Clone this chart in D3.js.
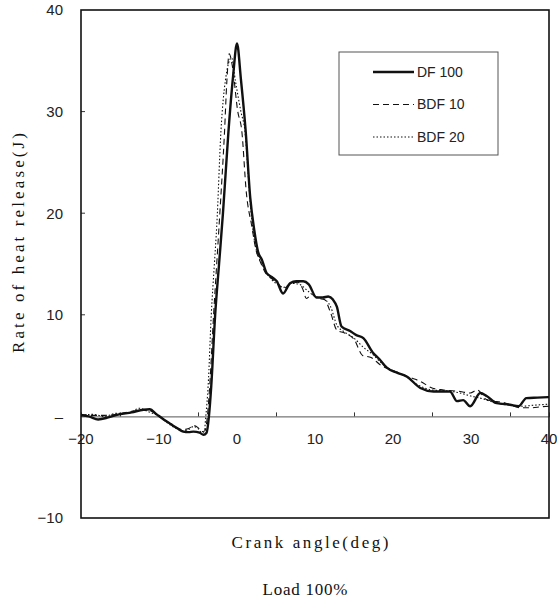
<!DOCTYPE html>
<html>
<head>
<meta charset="utf-8">
<script src="https://cdn.jsdelivr.net/npm/d3@7"></script>
<style>
  body { margin: 0; background: #fff; }
</style>
</head>
<body>
<div id="d3-container"></div>
<script>
/* CONSTANTS AND GLOBALS */
const width = 557,
  height = 602,
  margin = { top: 10, bottom: 84, left: 81, right: 8 };

/* DATA */
// [crank angle (deg), rate of heat release (J)]
const df100 = [
  [-20, 0.1], [-19, 0.0], [-17.8, -0.3], [-16.5, -0.1], [-15.4, 0.15], [-13.5, 0.4],
  [-12, 0.65], [-11.2, 0.7], [-10.3, 0.2], [-9.4, -0.3], [-8.5, -0.75], [-7.7, -1.15],
  [-6.9, -1.5], [-6.2, -1.55], [-5.6, -1.5], [-4.8, -1.6], [-4.3, -1.8], [-3.9, -1.6],
  [-3.6, 0], [-3.3, 3], [-2.8, 10], [-2.3, 15], [-1.8, 20], [-1.1, 28], [-0.5, 33.5],
  [0, 36.7], [0.5, 33.2], [1.1, 28.2], [1.7, 21.5], [2.2, 18.4], [2.7, 16.2], [3.2, 15.4],
  [3.8, 14.1], [4.5, 13.7], [5.1, 13.3], [5.9, 12.1], [6.8, 13.1], [7.6, 13.3], [8.5, 13.3],
  [9.2, 13.0], [10.2, 11.7], [11, 11.7], [11.7, 11.8], [12.3, 11.5], [12.8, 10.8],
  [13.4, 8.85], [14.5, 8.4], [15.3, 8.0], [16.2, 7.7], [17.4, 6.3], [18.3, 5.6], [19.2, 4.8],
  [20.5, 4.3], [21.8, 3.9], [23.5, 2.8], [25.2, 2.45], [27.3, 2.45], [28.2, 1.5], [29, 1.6],
  [29.9, 1.0], [31.2, 2.3], [32, 2.0], [33.3, 1.3], [35, 1.15], [36.1, 1.0], [37.1, 1.8],
  [38.5, 1.85], [40, 1.9]
];

const bdf10 = [
  [-20, 0.2], [-18.5, 0.1], [-17, 0.1], [-15.5, 0.2], [-13.5, 0.5], [-12, 0.6], [-11, 0.5],
  [-10, 0.0], [-9, -0.5], [-8, -1.0], [-7, -1.3], [-6.2, -1.2], [-5.6, -0.9], [-5, -1.1],
  [-4.5, -1.5], [-4.1, -1.4], [-3.8, 0], [-3.5, 3], [-3.0, 10], [-2.6, 15], [-2.2, 20],
  [-1.6, 28], [-1.3, 33], [-1.0, 35.7], [-0.6, 34.5], [0.1, 30], [0.6, 28.2], [1.2, 22],
  [1.9, 18.7], [2.4, 16.5], [3, 15.2], [3.6, 14.2], [4.4, 13.6], [5.2, 13.1], [6, 12.6],
  [6.8, 13.0], [7.8, 13.2], [8.4, 12.6], [8.9, 11.6], [9.6, 12.0], [10.4, 11.6], [11.2, 11.5],
  [12, 10.2], [12.8, 8.5], [13.8, 8.2], [15, 7.6], [16.1, 6.0], [17.2, 5.8], [18.5, 5.0],
  [19.8, 4.6], [21, 4.2], [22.3, 3.8], [23.5, 3.45], [25, 2.8], [26.5, 2.6], [28.6, 2.45],
  [29.9, 2.3], [30.8, 2.6], [32, 1.65], [34.3, 1.35], [36.4, 0.85], [37.7, 0.85], [39, 0.95],
  [40, 1.0]
];

const bdf20 = [
  [-20, 0.1], [-18.5, 0.2], [-17, 0.0], [-15.5, 0.3], [-14, 0.3], [-12.5, 0.8], [-11.5, 0.5],
  [-10, 0.0], [-9, -0.6], [-8, -1.1], [-7, -1.4], [-6.2, -1.3], [-5.6, -1.0], [-5, -1.2],
  [-4.5, -1.6], [-4.2, -1.5], [-4.0, 0], [-3.7, 3], [-3.3, 10], [-2.9, 15], [-2.6, 18.7],
  [-2.05, 28.2], [-1.5, 33], [-0.7, 35.3], [-0.2, 33], [0.5, 30], [1.0, 28.2], [1.7, 21],
  [2.1, 18], [2.5, 16.3], [3.0, 15.3], [3.6, 14.4], [4.4, 13.5], [5.2, 13.0], [6, 12.7],
  [7, 13.1], [8, 13.0], [9, 12.4], [10, 11.8], [11, 11.6], [12, 10.8], [12.8, 9.0],
  [13.8, 8.3], [15, 7.7], [16.2, 6.8], [17.4, 6.1], [18.6, 5.2], [20, 4.5], [21.5, 4.0],
  [23.2, 3.1], [25, 2.6], [27, 2.5], [28.6, 2.3], [30, 2.0], [31.2, 1.8], [33.3, 1.3],
  [35, 1.1], [36.5, 1.0], [38, 1.1], [40, 1.2]
];

const seriesNames = ["DF 100", "BDF 10", "BDF 20"];
const xTicks = [-20, -10, 0, 10, 20, 30, 40];
const xMinorTicks = [-15, -5, 5, 15, 25, 35];
const yTicks = [40, 30, 20, 10, 0, -10];

const styles = [
  { width: 2.4, dash: null },
  { width: 1.1, dash: "6,4" },
  { width: 1.1, dash: "1.5,2" }
];

const titleFont = "Liberation Serif, DejaVu Serif, serif";
const tickFont = "Liberation Sans, Arial, sans-serif";

let svg, xScale, yScale;

init();

function init() {
  xScale = d3.scaleLinear()
    .domain([-20, 40])
    .range([margin.left, width - margin.right]);

  yScale = d3.scaleLinear()
    .domain([-10, 40])
    .range([height - margin.bottom, margin.top]);

  svg = d3.select("#d3-container")
    .append("svg")
    .attr("width", width)
    .attr("height", height);

  // zero line with small ticks
  const xAxis = d3.axisTop(xScale)
    .tickValues(xMinorTicks)
    .tickSize(4)
    .tickFormat("");

  svg.append("g")
    .attr("transform", `translate(0, ${yScale(0)})`)
    .call(xAxis)
    .call(g => g.select(".domain").attr("stroke", "#555").attr("stroke-width", 1))
    .call(g => g.selectAll(".tick line").attr("stroke", "#333"));

  svg.append("g")
    .selectAll("text")
    .data(xTicks)
    .join("text")
    .attr("x", d => xScale(d))
    .attr("y", yScale(0) + 28)
    .attr("text-anchor", "middle")
    .attr("font-family", tickFont)
    .attr("font-size", 15)
    .attr("fill", "#222")
    .text(d => d3.format("d")(d).replace("-", "\u2212"));

  // y axis labels
  const yAxis = d3.axisLeft(yScale)
    .tickValues(yTicks)
    .tickSize(0)
    .tickPadding(18)
    .tickFormat(d => d === 0 ? "\u2013" : d3.format("d")(d).replace("-", "\u2212"));

  svg.append("g")
    .attr("transform", `translate(${margin.left}, 0)`)
    .call(yAxis)
    .call(g => g.select(".domain").remove())
    .call(g => g.selectAll("text")
      .attr("font-family", tickFont)
      .attr("font-size", 15)
      .attr("fill", "#222"));

  // inner y ticks
  svg.append("g")
    .selectAll("line")
    .data([30, 20, 10])
    .join("line")
    .attr("x1", margin.left)
    .attr("x2", margin.left + 4)
    .attr("y1", d => yScale(d))
    .attr("y2", d => yScale(d))
    .attr("stroke", "#333");

  // plot frame
  svg.append("rect")
    .attr("x", margin.left)
    .attr("y", margin.top)
    .attr("width", width - margin.left - margin.right)
    .attr("height", height - margin.top - margin.bottom)
    .attr("fill", "none")
    .attr("stroke", "#111")
    .attr("stroke-width", 1.6);

  // axis titles (monospaced look via textLength)
  svg.append("text")
    .attr("x", 310)
    .attr("y", 548)
    .attr("text-anchor", "middle")
    .attr("font-family", titleFont)
    .attr("font-size", 17)
    .attr("fill", "#111")
    .attr("textLength", 157)
    .attr("lengthAdjust", "spacing")
    .text("Crank angle(deg)");

  svg.append("text")
    .attr("x", 305)
    .attr("y", 595)
    .attr("text-anchor", "middle")
    .attr("font-family", titleFont)
    .attr("font-size", 17)
    .attr("fill", "#111")
    .attr("textLength", 85)
    .attr("lengthAdjust", "spacing")
    .text("Load 100%");

  svg.append("text")
    .attr("transform", `translate(24, 243) rotate(-90)`)
    .attr("text-anchor", "middle")
    .attr("font-family", titleFont)
    .attr("font-size", 17)
    .attr("fill", "#111")
    .attr("textLength", 220)
    .attr("lengthAdjust", "spacing")
    .text("Rate of heat release(J)");

  draw();
}

function draw() {
  const line = d3.line()
    .x(d => xScale(d[0]))
    .y(d => yScale(d[1]))
    .curve(d3.curveMonotoneX);

  const allSeries = [df100, bdf10, bdf20];

  svg.append("g")
    .selectAll("path")
    .data(allSeries)
    .join("path")
    .attr("d", line)
    .attr("fill", "none")
    .attr("stroke", "#111")
    .attr("stroke-width", (d, i) => styles[i].width)
    .attr("stroke-dasharray", (d, i) => styles[i].dash)
    .attr("stroke-linejoin", "round");

  // legend
  const legend = svg.append("g");

  legend.append("rect")
    .attr("x", 339)
    .attr("y", 52)
    .attr("width", 159)
    .attr("height", 103)
    .attr("fill", "#fff")
    .attr("stroke", "#555")
    .attr("stroke-width", 1);

  const item = legend.selectAll("g.item")
    .data(seriesNames)
    .join("g")
    .attr("class", "item")
    .attr("transform", (d, i) => `translate(0, ${72 + i * 32.5})`);

  item.append("line")
    .attr("x1", 373)
    .attr("x2", 414)
    .attr("stroke", "#111")
    .attr("stroke-width", (d, i) => styles[i].width)
    .attr("stroke-dasharray", (d, i) => styles[i].dash);

  item.append("text")
    .attr("x", 417)
    .attr("dy", "0.35em")
    .attr("font-family", tickFont)
    .attr("font-size", 14)
    .attr("fill", "#222")
    .text(d => d);
}
</script>
</body>
</html>
